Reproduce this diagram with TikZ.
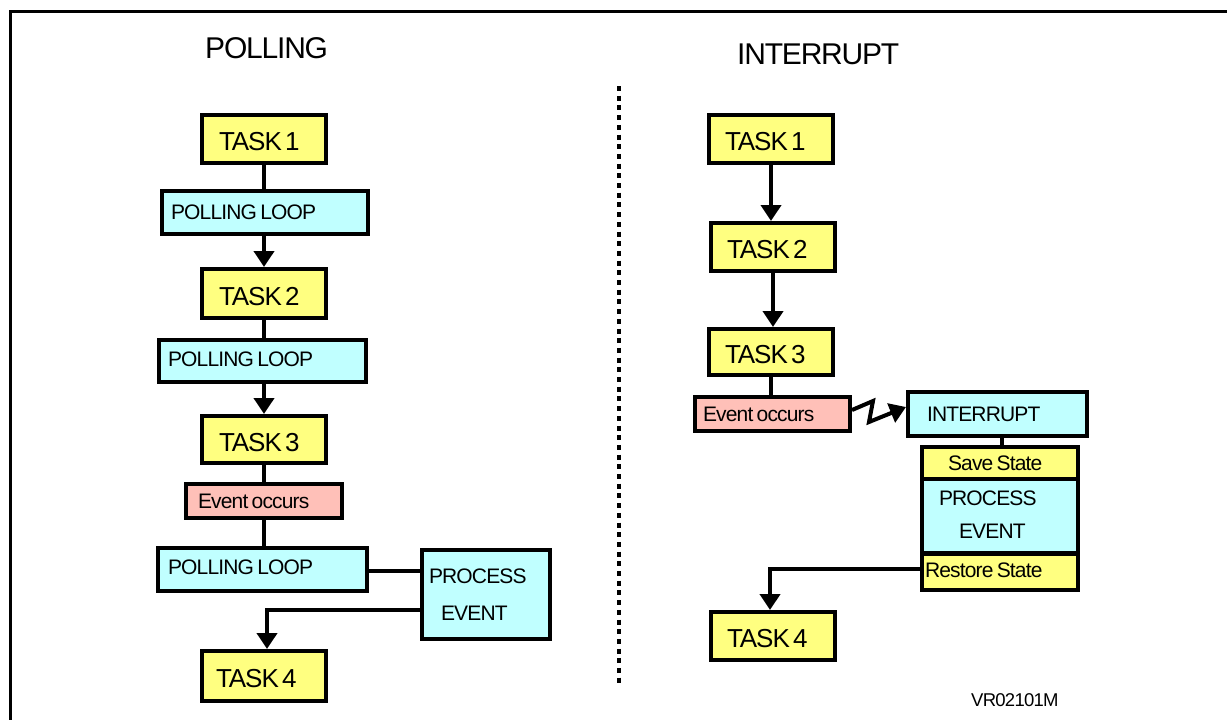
\documentclass[tikz,border=0pt]{standalone}
\usepackage{fontspec}
\setmainfont[LetterSpace=-4]{Liberation Sans}
\usetikzlibrary{arrows.meta}
\definecolor{boxyellow}{HTML}{FFFF80}
\definecolor{boxcyan}{HTML}{C0FFFF}
\definecolor{boxpink}{HTML}{FFC0B8}
\newcommand{\szT}{\fontsize{26}{26}\selectfont\rule{0pt}{24pt}}
\newcommand{\szP}{\fontsize{21}{24}\selectfont\rule[-4pt]{0pt}{4pt}}
\newcommand{\szL}{\fontsize{21}{24}\selectfont}
\newcommand{\szH}{\fontsize{30}{30}\selectfont}
\newcommand{\bx}[8]{%
  \pgfmathsetlengthmacro{\bw}{#4-#2-4}%
  \pgfmathsetlengthmacro{\bh}{#5-#3-4}%
  \pgfmathsetlengthmacro{\bp}{#7-#2-2}%
  \pgfmathsetlengthmacro{\bt}{#4-#2-4-2*(#7-#2-2)}%
  \node[box,fill=#6,minimum width=\bw,minimum height=\bh,inner xsep=\bp,text width=\bt]
    (#1) at ({(#2+#4)/2},{(#3+#5)/2}) {#8};}
\tikzset{
  box/.style={draw=black,line width=4pt,rectangle,inner ysep=0pt,align=left,text=black},
  link/.style={draw=black,line width=4pt},
  arrowlink/.style={link,-{Triangle[length=16pt,width=20pt]}},
  heading/.style={inner sep=0pt,anchor=west,font=\szH},
}
\begin{document}
\begin{tikzpicture}[x=1pt,y=-1pt]
\useasboundingbox (0,0) rectangle (1227,720);
\node[draw=black,line width=3pt,inner sep=0pt,minimum width=1241pt,minimum height=729pt,anchor=north west] (frame) at (8.5,9.5) {};
\node[heading] (hp) at (205,48) {POLLING};
\node[heading] (hi) at (737,54) {INTERRUPT};
% left
\bx{la}{200}{113}{328}{165}{boxyellow}{219}{\szT TASK 1}
\bx{lb}{160}{189}{370}{236}{boxcyan}{171}{\szL POLLING LOOP}
\bx{lc}{200}{267}{328}{320}{boxyellow}{219}{\szT TASK 2}
\bx{ld}{157}{338}{368}{384}{boxcyan}{168}{\szP POLLING LOOP}
\bx{le}{200}{414}{328}{465}{boxyellow}{219}{\szT TASK 3}
\bx{lf}{184}{482}{344}{520}{boxpink}{198}{\szL Event occurs}
\bx{lg}{156}{546}{369}{593}{boxcyan}{168}{\szP POLLING LOOP}
\bx{lh}{420}{548}{552}{641}{boxcyan}{429}{\szL PROCESS\\[21pt]\hspace*{12pt}EVENT}
\bx{li}{200}{649}{328}{703}{boxyellow}{216}{\szT TASK 4}
\draw[link] (la.south) -- (lb.north -| la.south);
\draw[arrowlink] (lb.south -| lc.north) -- (lc.north);
\draw[link] (lc.south) -- (ld.north -| lc.south);
\draw[arrowlink] (ld.south -| le.north) -- (le.north);
\draw[link] (le.south) -- (lf.north -| le.south);
\draw[link] (lf.south) -- (lg.north -| lf.south);
\coordinate (lline) at (0,571);
\draw[link] (lg.east |- lline) -- (lh.west |- lline);
\coordinate (lbend) at (267,610);
\draw[arrowlink] (lh.west |- lbend) -- (lbend) -- (li.north -| lbend);
% divider
\coordinate (da) at (619,86);
\coordinate (db) at (619,685);
\draw[line width=3.5pt,dash pattern=on 5pt off 4.7pt] (da) -- (db);
% right
\bx{ra}{707}{113}{835}{165}{boxyellow}{725}{\szT TASK 1}
\bx{rb}{709}{221}{837}{273}{boxyellow}{727}{\szT TASK 2}
\bx{rc}{707}{327}{835}{377}{boxyellow}{725}{\szT TASK 3}
\bx{rd}{693}{395}{852}{433}{boxpink}{703}{\szL Event occurs}
\bx{re}{906}{390}{1089}{438}{boxcyan}{927}{\szL INTERRUPT}
\bx{rf}{920}{445}{1080}{481}{boxyellow}{948}{\szL Save State}
\bx{rg}{920}{477}{1080}{555}{boxcyan}{939}{\szL PROCESS\\[18pt]\hspace*{20pt}EVENT\rule[-3pt]{0pt}{3pt}}
\bx{rh}{920}{552}{1080}{592}{boxyellow}{925}{\szP Restore State}
\bx{ri}{709}{610}{837}{662}{boxyellow}{727}{\szT TASK 4}
\draw[arrowlink] (ra.south) -- (rb.north -| ra.south);
\draw[arrowlink] (rb.south) -- (rc.north -| rb.south);
\draw[link] (rc.south) -- (rd.north -| rc.south);
\coordinate (rline) at (1002,0);
\draw[link] (re.south -| rline) -- (rf.north -| rline);
\coordinate (za) at (873,401);
\coordinate (zb) at (869,422);
\coordinate (zs) at (0,410);
\coordinate (ze) at (0,407);
\draw[arrowlink,miter limit=10] (rd.east |- zs) -- (za) -- (zb) -- (re.west |- ze);
\coordinate (rbend) at (770,569);
\draw[arrowlink] (rh.west |- rbend) -- (rbend) -- (ri.north -| rbend);
\node[inner sep=0pt,anchor=west,font=\fontsize{18.5}{18.5}\selectfont] (vr) at (971,700) {VR02101M};
\end{tikzpicture}
\end{document}
